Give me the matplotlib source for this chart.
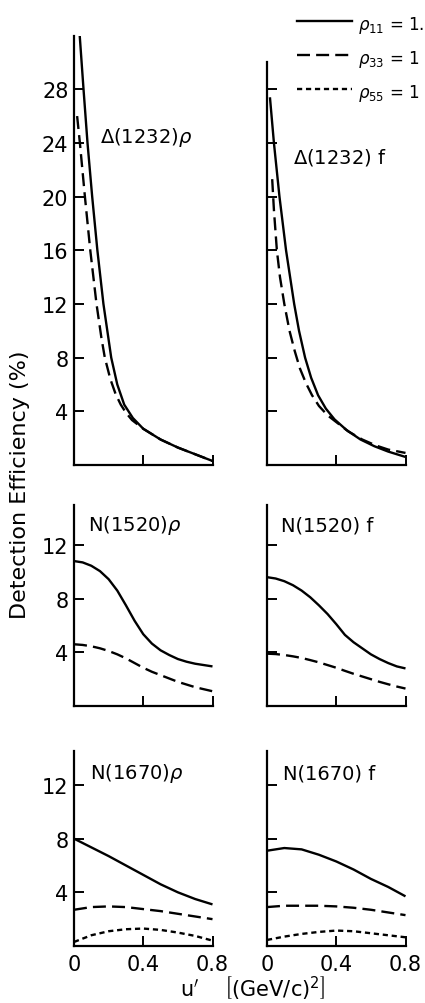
import matplotlib
matplotlib.use("Agg")
import matplotlib.pyplot as plt
from matplotlib.lines import Line2D

# ---- data (u' in (GeV/c)^2, efficiency in %) ----
# Delta(1232) rho
d_rho_u11 = [0.033, 0.055, 0.078, 0.105, 0.135, 0.17, 0.215, 0.25, 0.29, 0.34, 0.40, 0.50, 0.60, 0.70, 0.80]
d_rho_v11 = [32.0, 28.0, 24.0, 20.0, 16.0, 12.0, 8.0, 6.0, 4.5, 3.5, 2.7, 1.9, 1.3, 0.8, 0.3]
d_rho_u33 = [0.018, 0.034, 0.063, 0.094, 0.13, 0.158, 0.178, 0.21, 0.24, 0.27, 0.30, 0.335, 0.40, 0.50, 0.60, 0.70, 0.80]
d_rho_v33 = [26.0, 24.0, 20.0, 16.0, 12.0, 9.5, 8.0, 6.4, 5.3, 4.5, 3.9, 3.35, 2.7, 1.9, 1.3, 0.8, 0.3]

# Delta(1232) f
d_f_u11 = [0.017, 0.04, 0.072, 0.11, 0.157, 0.185, 0.22, 0.255, 0.295, 0.34, 0.39, 0.46, 0.54, 0.62, 0.70, 0.80]
d_f_v11 = [27.4, 24.0, 20.0, 16.0, 12.0, 10.0, 8.0, 6.5, 5.2, 4.2, 3.4, 2.6, 1.9, 1.4, 1.0, 0.6]
d_f_u33 = [0.03, 0.04, 0.057, 0.075, 0.10, 0.13, 0.16, 0.19, 0.225, 0.26, 0.30, 0.35, 0.40, 0.47, 0.55, 0.63, 0.70, 0.80]
d_f_v33 = [21.3, 19.0, 16.0, 14.0, 12.0, 10.0, 8.5, 7.2, 6.1, 5.2, 4.4, 3.7, 3.2, 2.5, 1.9, 1.45, 1.15, 0.9]

# N(1520) rho
n1520_rho_u = [0.0, 0.05, 0.10, 0.15, 0.20, 0.25, 0.30, 0.35, 0.40, 0.45, 0.50, 0.55, 0.60, 0.65, 0.70, 0.75, 0.80]
n1520_rho_v11 = [10.8, 10.7, 10.45, 10.05, 9.45, 8.6, 7.5, 6.35, 5.35, 4.65, 4.15, 3.8, 3.5, 3.3, 3.15, 3.05, 2.95]
n1520_rho_v33 = [4.6, 4.55, 4.45, 4.3, 4.1, 3.85, 3.55, 3.2, 2.85, 2.55, 2.3, 2.05, 1.8, 1.6, 1.4, 1.25, 1.1]

# N(1520) f
n1520_f_u = [0.0, 0.05, 0.10, 0.15, 0.20, 0.25, 0.30, 0.35, 0.40, 0.45, 0.50, 0.55, 0.60, 0.65, 0.70, 0.75, 0.80]
n1520_f_v11 = [9.6, 9.5, 9.3, 9.0, 8.6, 8.1, 7.5, 6.85, 6.1, 5.3, 4.75, 4.3, 3.85, 3.5, 3.2, 2.95, 2.8]
n1520_f_v33 = [3.9, 3.87, 3.8, 3.7, 3.58, 3.42, 3.25, 3.05, 2.85, 2.62, 2.4, 2.2, 2.0, 1.8, 1.62, 1.45, 1.3]

# N(1670) rho
n1670_rho_u = [0.0, 0.10, 0.20, 0.30, 0.40, 0.50, 0.60, 0.70, 0.80]
n1670_rho_v11 = [8.0, 7.35, 6.7, 6.0, 5.3, 4.6, 4.0, 3.5, 3.1]
n1670_rho_v33 = [2.7, 2.9, 2.95, 2.9, 2.75, 2.6, 2.4, 2.2, 2.0]
n1670_rho_v55 = [0.3, 0.8, 1.1, 1.25, 1.3, 1.2, 1.0, 0.75, 0.4]

# N(1670) f
n1670_f_u = [0.0, 0.10, 0.20, 0.30, 0.40, 0.50, 0.60, 0.70, 0.80]
n1670_f_v11 = [7.1, 7.3, 7.2, 6.8, 6.3, 5.7, 5.0, 4.4, 3.7]
n1670_f_v33 = [2.9, 3.0, 3.0, 3.0, 2.95, 2.85, 2.7, 2.5, 2.3]
n1670_f_v55 = [0.45, 0.7, 0.9, 1.05, 1.15, 1.1, 0.95, 0.8, 0.65]

x_ticks = [0, 0.4, 0.8]
x_tick_labels = ["0", "0.4", "0.8"]

SOLID = "-"
DASHED = (0, (5.5, 2.6))
DOTTED = (0, (2.2, 1.6))
LW = 1.7

plt.rcParams["font.family"] = "DejaVu Sans"
plt.rcParams["mathtext.fontset"] = "dejavusans"


def style_axis(ax, ymax, yticks, ylabels, xlabels, spine_top=None):
    ax.set_xlim(0, 0.8)
    ax.set_ylim(0, ymax)
    for side in ("top", "right"):
        ax.spines[side].set_visible(False)
    for side in ("left", "bottom"):
        ax.spines[side].set_linewidth(1.6)
    if spine_top is not None:
        ax.spines["left"].set_bounds(0, spine_top)
    ax.set_xticks(x_ticks)
    ax.set_xticklabels(x_tick_labels if xlabels else [])
    ax.set_yticks(yticks)
    ax.set_yticklabels([str(t) for t in yticks] if ylabels else [])
    ax.tick_params(direction="in", length=7, width=1.4, labelsize=15, pad=4)
    ax.tick_params(axis="x", pad=6)
    ax.patch.set_visible(False)


def add_panel(fig, rect, curves, label, lab_xy, ymax, yticks, ylabels, xlabels, spine_top=None):
    ax = fig.add_axes(rect)
    for u, v, ls in curves:
        ax.plot(u, v, color="black", lw=LW, linestyle=ls, solid_capstyle="butt",
                dash_capstyle="butt", solid_joinstyle="round")
    ax.text(lab_xy[0], lab_xy[1], label, fontsize=14, ha="left", va="center")
    style_axis(ax, ymax, yticks, ylabels, xlabels, spine_top)
    return ax


def main():
    fig = plt.figure(figsize=(4.25, 10.04), dpi=100)
    W, H = 425.0, 1004.0
    scale = 13.42  # pixels per percent
    lefts = [74 / W, 267 / W]
    width = 138.5 / W

    def rect(col, bottom_px, ymax):
        return [lefts[col], (H - bottom_px) / H, width, ymax * scale / H]

    # top row
    add_panel(fig, rect(0, 466, 32), [(d_rho_u11, d_rho_v11, SOLID), (d_rho_u33, d_rho_v33, DASHED)],
              r"$\Delta$(1232)$\rho$", (0.15, 24.5), 32, [4, 8, 12, 16, 20, 24, 28], True, False)
    add_panel(fig, rect(1, 466, 32), [(d_f_u11, d_f_v11, SOLID), (d_f_u33, d_f_v33, DASHED)],
              r"$\Delta$(1232) f", (0.15, 23.0), 32, [4, 8, 12, 16, 20, 24, 28], False, False, spine_top=30)

    # middle row
    add_panel(fig, rect(0, 707, 15), [(n1520_rho_u, n1520_rho_v11, SOLID), (n1520_rho_u, n1520_rho_v33, DASHED)],
              r"N(1520)$\rho$", (0.08, 13.5), 15, [4, 8, 12], True, False)
    add_panel(fig, rect(1, 707, 15), [(n1520_f_u, n1520_f_v11, SOLID), (n1520_f_u, n1520_f_v33, DASHED)],
              "N(1520) f", (0.08, 13.5), 15, [4, 8, 12], False, False)

    # bottom row
    add_panel(fig, rect(0, 947, 14.5), [(n1670_rho_u, n1670_rho_v11, SOLID), (n1670_rho_u, n1670_rho_v33, DASHED),
                                        (n1670_rho_u, n1670_rho_v55, DOTTED)],
              r"N(1670)$\rho$", (0.09, 12.9), 14.5, [4, 8, 12], True, True)
    add_panel(fig, rect(1, 947, 14.5), [(n1670_f_u, n1670_f_v11, SOLID), (n1670_f_u, n1670_f_v33, DASHED),
                                        (n1670_f_u, n1670_f_v55, DOTTED)],
              "N(1670) f", (0.09, 12.9), 14.5, [4, 8, 12], False, True)

    # axis titles
    fig.text(20 / W, 1 - 485 / H, "Detection Efficiency (%)", rotation=90, fontsize=16,
             ha="center", va="center")
    fig.text(253 / W, 1 - 988 / H, r"u$'$    $\left[(\mathrm{GeV/c})^{2}\right]$", fontsize=15,
             ha="center", va="center")

    # legend in the top right corner (the original is cut at the page edge)
    legend_rows = [(22, SOLID, r"$\rho_{11}$ = 1."), (56, DASHED, r"$\rho_{33}$ = 1"),
                   (90, DOTTED, r"$\rho_{55}$ = 1")]
    for y, ls, txt in legend_rows:
        fig.add_artist(Line2D([297 / W, 352 / W], [1 - y / H, 1 - y / H], color="black", lw=LW,
                              linestyle=ls, transform=fig.transFigure))
        fig.text(358 / W, 1 - (y + 4) / H, txt, fontsize=12, ha="left", va="center")

    fig.savefig("out.png", dpi=100)
    plt.close(fig)


main()
